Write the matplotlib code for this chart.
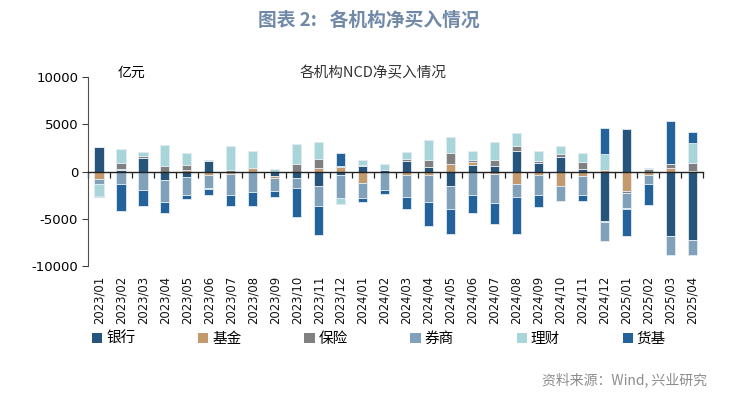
import numpy as np
import matplotlib
matplotlib.use('Agg')
import matplotlib.pyplot as plt
from matplotlib.patches import Patch

plt.rcParams['font.family'] = ['Noto Sans CJK SC', 'DejaVu Sans']
plt.rcParams['axes.unicode_minus'] = False

# 月份
months = ['2023/01', '2023/02', '2023/03', '2023/04', '2023/05', '2023/06', '2023/07',
          '2023/08', '2023/09', '2023/10', '2023/11', '2023/12', '2024/01', '2024/02',
          '2024/03', '2024/04', '2024/05', '2024/06', '2024/07', '2024/08', '2024/09',
          '2024/10', '2024/11', '2024/12', '2025/01', '2025/02', '2025/03', '2025/04']

# 各机构净买入 (亿元)
bank = [2600, 150, 1450, -860, -540, 1100, 0, 0, -450, -640, -1570, -320, 640, 200,
        1140, 500, -1570, 680, 570, 2140, 930, 1540, 250, -5250, 4470, 0, -6830, -7220]
fund = [-750, 100, 0, 0, 120, -320, -290, 350, -200, 0, 390, 460, -1180, 0,
        -320, -390, 790, 320, -290, -1290, -390, -1500, -430, 180, -2080, -390, 390, 100]
insurance = [0, 700, 180, 570, 540, 140, 150, 50, 0, 780, 930, 120, 100, 0,
             180, 710, 1210, 210, 640, 610, 180, 360, 750, -100, -140, 250, 390, 770]
broker = [-600, -1350, -1930, -2390, -1890, -1390, -2200, -2180, -1450, -1070, -2040, -2460, -1600, -2000,
          -2390, -2790, -2360, -2460, -3000, -1390, -2140, -1570, -2040, -2040, -1580, -920, -1970, -1580]
wealth = [-1200, 1450, 400, 2290, 1320, -140, 2600, 1780, 250, 2140, 1790, -600, 450, 640,
          750, 2140, 1680, 960, 1890, 1290, 1040, 790, 930, 1720, -140, 140, 0, 2110]
mmf = [-100, -2850, -1750, -1140, -460, -640, -1100, -1500, -550, -3070, -3110, 1360, -390, -360,
       -1250, -2600, -2710, -1940, -2210, -3940, -1250, -70, -610, 2710, -2890, -2180, 4580, 1200]

series = [('银行', bank, '#27547b'),
          ('基金', fund, '#c49a6c'),
          ('保险', insurance, '#808080'),
          ('券商', broker, '#80a1b9'),
          ('理财', wealth, '#a8d5d9'),
          ('货基', mmf, '#23629a')]

fig = plt.figure(figsize=(7.38, 3.99), dpi=100)
ax = fig.add_axes([0.119, 0.333, 0.834, 0.474])

x = np.arange(len(months))
pos_bottom = np.zeros(len(months))
neg_bottom = np.zeros(len(months))
for name, vals, color in series:
    v = np.array(vals, dtype=float)
    bottom = np.where(v >= 0, pos_bottom, neg_bottom)
    ax.bar(x, v, width=0.43, bottom=bottom, color=color,
           edgecolor='#e3ecf2', linewidth=0.6)
    pos_bottom += np.where(v > 0, v, 0)
    neg_bottom += np.where(v < 0, v, 0)

ax.set_xlim(-0.5, len(months) - 0.5)
ax.set_ylim(-10000, 10000)
ax.set_yticks([-10000, -5000, 0, 5000, 10000])
ax.tick_params(axis='y', labelsize=9.5, length=4, width=0.8, color='#404040', pad=3)
for lab in ax.get_yticklabels():
    lab.set_family('DejaVu Sans')

# 零轴
ax.spines['top'].set_visible(False)
ax.spines['right'].set_visible(False)
ax.spines['left'].set_color('#505050')
ax.spines['bottom'].set_position(('data', 0))
ax.spines['bottom'].set_color('#222222')
ax.spines['bottom'].set_linewidth(1.0)
ax.set_xticks(np.arange(len(months) + 1) - 0.5)
ax.set_xticklabels([])
ax.tick_params(axis='x', direction='out', length=4, width=0.9, color='#222222')

for i, m in enumerate(months):
    ax.text(i, -0.05, m, transform=ax.get_xaxis_transform(), rotation=90,
            ha='center', va='top', fontsize=8.4, family='DejaVu Sans', color='#111111')

fig.text(0.16, 0.817, '亿元', ha='left', va='center', fontsize=10)
fig.text(0.505, 0.817, '各机构NCD净买入情况', ha='center', va='center', fontsize=10.5, color='#333333')

fig.text(0.5, 0.948, '图表 2:   各机构净买入情况', ha='center', va='center',
         fontsize=13.5, fontweight='bold', color='#7189a8')

handles = [Patch(facecolor=c, edgecolor='none') for _, _, c in series]
labels = [n for n, _, _ in series]
fig.legend(handles, labels, loc='center left', bbox_to_anchor=(0.117, 0.151), ncol=6,
           frameon=False, fontsize=10.5, handlelength=0.7, handleheight=0.7,
           handletextpad=0.25, columnspacing=4.32, borderaxespad=0)

fig.text(0.958, 0.048, '资料来源：Wind, 兴业研究', ha='right', va='center',
         fontsize=10, color='#8c8c8c')

fig.savefig('out.png', dpi=100)
